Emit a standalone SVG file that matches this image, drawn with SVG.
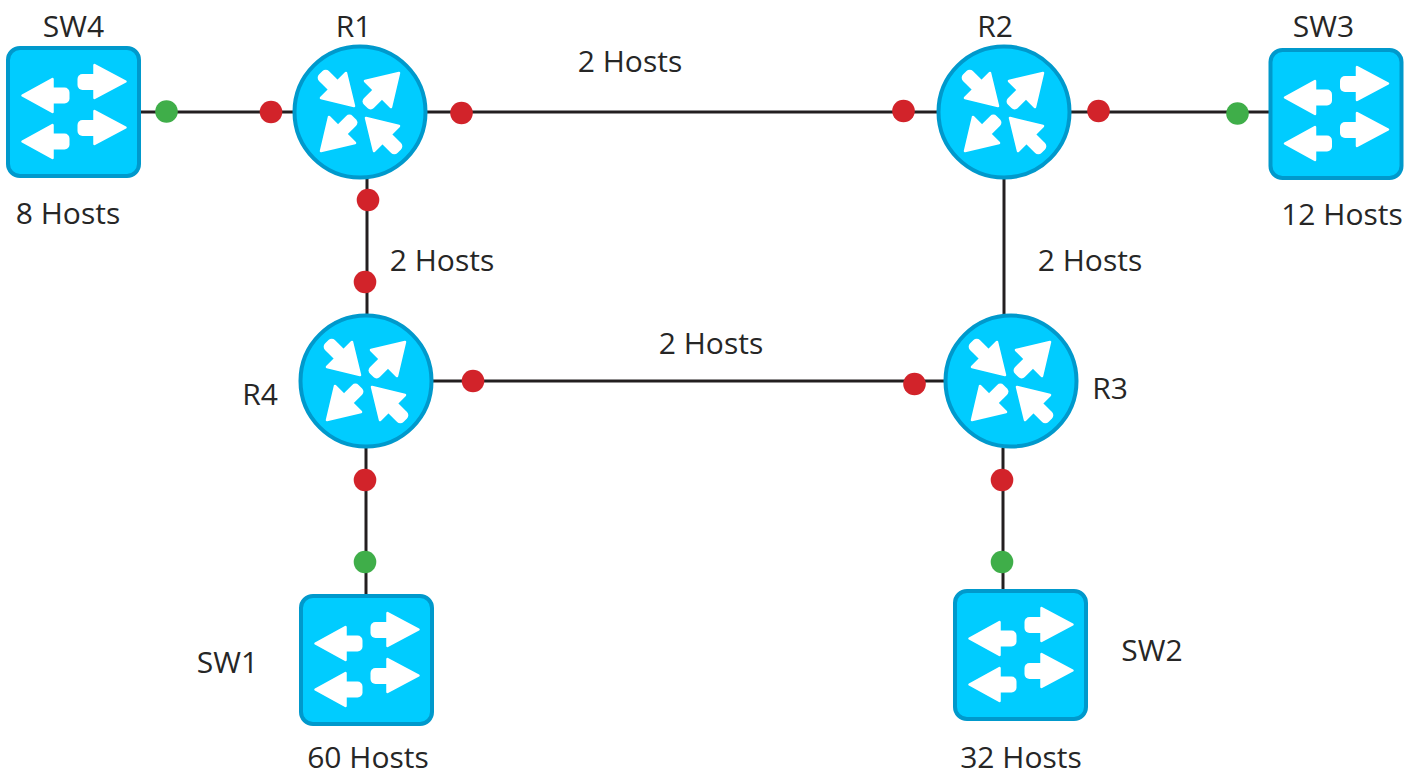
<svg xmlns="http://www.w3.org/2000/svg" width="1418" height="777" viewBox="0 0 1418 777">
<style>
text{font-family:"Open Sans","Noto Sans","Liberation Sans",sans-serif;font-size:30px;fill:#262626;text-anchor:middle}
.l{stroke:#231f20;stroke-width:3;fill:none}
.r{fill:#d2232a}.g{fill:#3fae49}
.b{fill:#00ccff;stroke:#0099cc;stroke-width:4}
.a{fill:#fff;stroke:#fff;stroke-width:2.500;stroke-linejoin:round}
.s{fill:#fff}
</style>
<defs>
<g id="ain"><path class="a" d="M-6-6L-39-14-14-39Z"/><rect class="s" transform="rotate(45)" x="-55.500" y="-7" width="30" height="14" rx="4.500"/></g>
<g id="aout"><path class="a" d="M-39 39L-5 31-31 5Z"/><rect class="s" transform="rotate(-45)" x="-28" y="-7" width="20" height="14" rx="4.500"/></g>
<g id="rt">
<circle class="b" r="65.500"/>
<use href="#ain"/>
<use href="#ain" transform="rotate(180)"/>
<use href="#aout"/>
<use href="#aout" transform="rotate(180)"/>
</g>
<g id="al"><path class="a" d="M-51-16.500L-21-33V0Z"/><rect class="s" x="-26" y="-24.500" width="22" height="16" rx="5"/></g>
<g id="ar"><path class="a" d="M52-30.500L21-47V-14Z"/><rect class="s" x="4" y="-38" width="22" height="16" rx="5"/></g>
<g id="sw">
<rect class="b" x="-65.500" y="-64" width="131" height="128" rx="12"/>
<use href="#al"/><use href="#al" y="46"/>
<use href="#ar"/><use href="#ar" y="46"/>
</g>
<circle id="rd" class="r" r="11.300"/>
<circle id="gd" class="g" r="11.300"/>
</defs>
<g id="connectors">
<path class="l" d="M141 112H293"/>
<path class="l" d="M427 112H937"/>
<path class="l" d="M1071 112H1269"/>
<path class="l" d="M367 179V315"/>
<path class="l" d="M1004 179V315"/>
<path class="l" d="M433 381H944"/>
<path class="l" d="M366 448V595"/>
<path class="l" d="M1003 448V590"/>
</g>
<g id="dots">
<use href="#gd" x="166.500" y="111.500"/>
<use href="#rd" x="271" y="112"/>
<use href="#rd" x="461.500" y="113"/>
<use href="#rd" x="903.500" y="111"/>
<use href="#rd" x="1098.500" y="111"/>
<use href="#gd" x="1237.500" y="113.500"/>
<use href="#rd" x="368" y="200"/>
<use href="#rd" x="365" y="282"/>
<use href="#rd" x="473" y="381"/>
<use href="#rd" x="914.500" y="384"/>
<use href="#rd" x="365" y="480"/>
<use href="#gd" x="365" y="562"/>
<use href="#rd" x="1002" y="480"/>
<use href="#gd" x="1002" y="562"/>
</g>
<g id="SW4"><use href="#sw" x="73.500" y="112"/><text x="73.500" y="37">SW4</text><text x="68" y="224">8 Hosts</text></g>
<g id="R1"><use href="#rt" x="360" y="112"/><text x="353.500" y="37">R1</text></g>
<g id="R2"><use href="#rt" x="1004" y="112"/><text x="995" y="37">R2</text></g>
<g id="SW3"><use href="#sw" x="1336" y="114"/><text x="1323.500" y="37">SW3</text><text x="1342" y="225">12 Hosts</text></g>
<g id="R4"><use href="#rt" x="366" y="381"/><text x="260" y="405">R4</text></g>
<g id="R3"><use href="#rt" x="1011" y="381"/><text x="1110" y="399">R3</text></g>
<g id="SW1"><use href="#sw" x="366.500" y="660"/><text x="227.500" y="673">SW1</text><text x="368" y="768">60 Hosts</text></g>
<g id="SW2"><use href="#sw" x="1020.500" y="655"/><text x="1152" y="661">SW2</text><text x="1021" y="768">32 Hosts</text></g>
<g id="labels">
<text x="630" y="72">2 Hosts</text>
<text x="442" y="271">2 Hosts</text>
<text x="1090" y="271">2 Hosts</text>
<text x="711" y="354">2 Hosts</text>
</g>
</svg>
